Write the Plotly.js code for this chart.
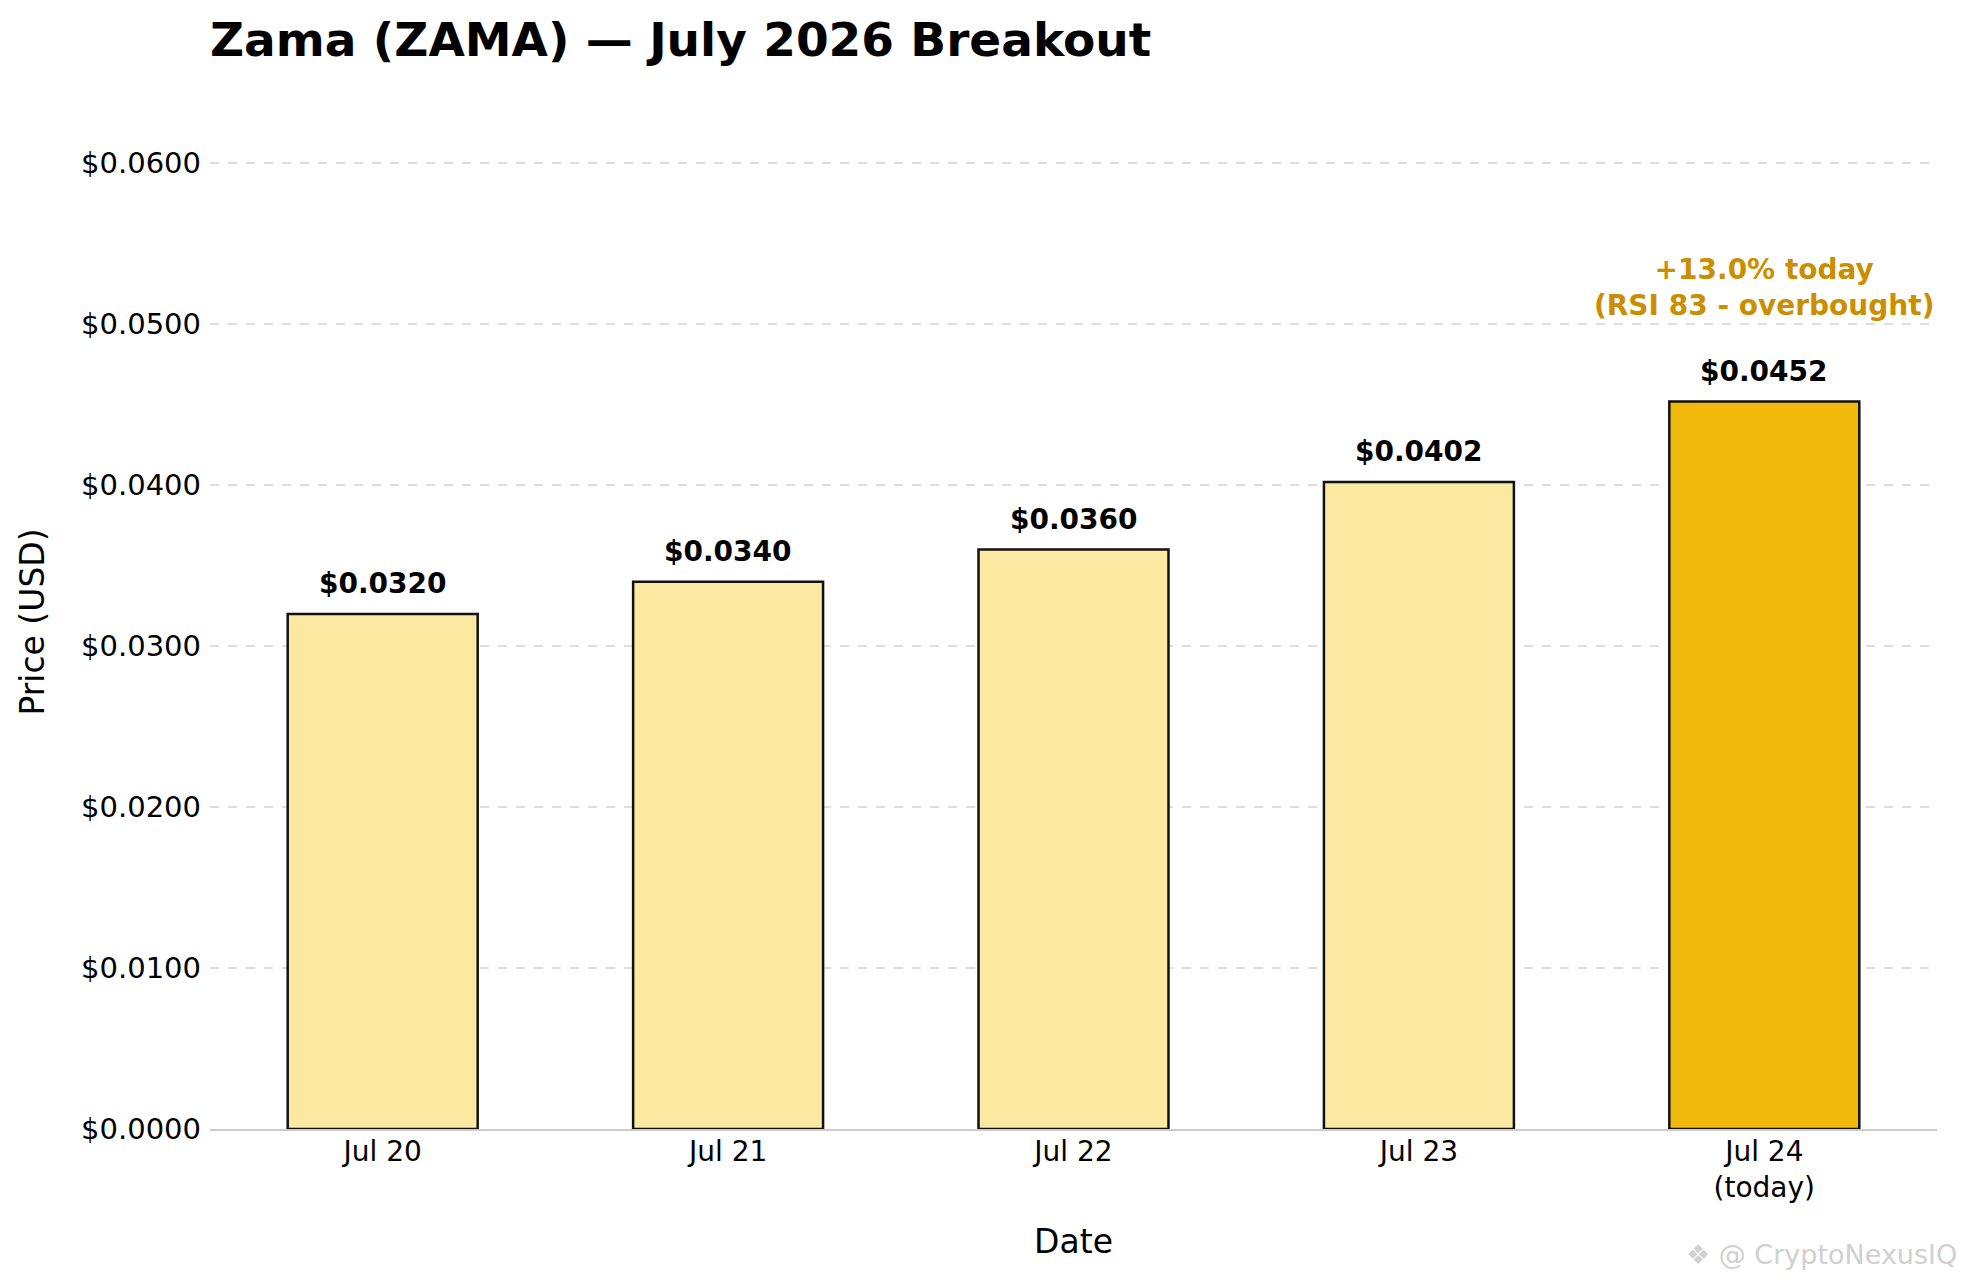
<!DOCTYPE html>
<html>
<head>
<meta charset="utf-8">
<script src="https://cdn.plot.ly/plotly-3.0.1.min.js"></script>
<style>
  html, body { margin: 0; padding: 0; background: #ffffff; }
  #chart { width: 1962px; height: 1280px; }
</style>
</head>
<body>
<div id="chart"></div>
<script>
const dates = ['Jul 20', 'Jul 21', 'Jul 22', 'Jul 23', 'Jul 24<br>(today)'];
const prices = [0.0320, 0.0340, 0.0360, 0.0402, 0.0452];
const barColors = ['#fde9a1', '#fde9a1', '#fde9a1', '#fde9a1', '#f0b90b'];
const yTicks = [0, 0.01, 0.02, 0.03, 0.04, 0.05, 0.06];
const yTickText = ['$0.0000', '$0.0100', '$0.0200', '$0.0300', '$0.0400', '$0.0500', '$0.0600'];
const changeNote = '+13.0% today<br>(RSI 83 - overbought)';

const font = 'DejaVu Sans, sans-serif';

const data = [{
    x: dates,
    y: prices,
    type: 'bar',
    width: 0.55,
    marker: {
        color: barColors,
        line: { color: '#111111', width: 2.5 }
    },
    hoverinfo: 'none'
}];

// price labels above each bar
const annotations = prices.map((p, i) => ({
    x: dates[i],
    y: p,
    xref: 'x',
    yref: 'y',
    text: '<b>$' + p.toFixed(4) + '</b>',
    showarrow: false,
    yanchor: 'bottom',
    yshift: 12,
    font: { family: font, size: 28, color: '#000000' }
}));

annotations.push({
    x: dates[dates.length - 1],
    y: 0.05,
    xref: 'x',
    yref: 'y',
    text: '<b>' + changeNote + '</b>',
    showarrow: false,
    yanchor: 'bottom',
    yshift: 0,
    font: { family: font, size: 28, color: '#cc8e00' }
});

annotations.push({
    x: 1,
    y: 0,
    xref: 'paper',
    yref: 'paper',
    xanchor: 'right',
    yanchor: 'top',
    xshift: 22,
    yshift: -108,
    text: '❖ @ CryptoNexusIQ',
    showarrow: false,
    font: { family: font, size: 27, color: '#d0d0d0' }
});

const layout = {
    width: 1962,
    height: 1280,
    margin: { l: 210, r: 25, t: 115, b: 151 },
    paper_bgcolor: '#ffffff',
    plot_bgcolor: '#ffffff',
    showlegend: false,
    title: {
        text: '<b>Zama (ZAMA) — July 2026 Breakout</b>',
        x: 210 / 1962,
        xanchor: 'left',
        y: 1 - 40 / 1280,
        yanchor: 'middle',
        font: { family: font, size: 47, color: '#000000' }
    },
    xaxis: {
        type: 'category',
        range: [-0.5, 4.5],
        showgrid: false,
        showline: true,
        linecolor: '#cccccc',
        linewidth: 2,
        ticks: '',
        ticklabelstandoff: -4,
        tickfont: { family: font, size: 28, color: '#000000' },
        title: {
            text: 'Date',
            standoff: 27,
            font: { family: font, size: 33, color: '#000000' }
        }
    },
    yaxis: {
        range: [0, 0.063],
        tickvals: yTicks,
        ticktext: yTickText,
        ticklabelstandoff: 8,
        showgrid: true,
        gridcolor: '#dddddd',
        gridwidth: 2,
        griddash: 'dash',
        zeroline: false,
        showline: false,
        ticks: '',
        tickfont: { family: font, size: 29, color: '#000000' },
        title: {
            text: 'Price (USD)',
            standoff: 26,
            font: { family: font, size: 33, color: '#000000' }
        }
    },
    annotations: annotations
};

Plotly.newPlot('chart', data, layout, { displayModeBar: false, staticPlot: true });
</script>
</body>
</html>
